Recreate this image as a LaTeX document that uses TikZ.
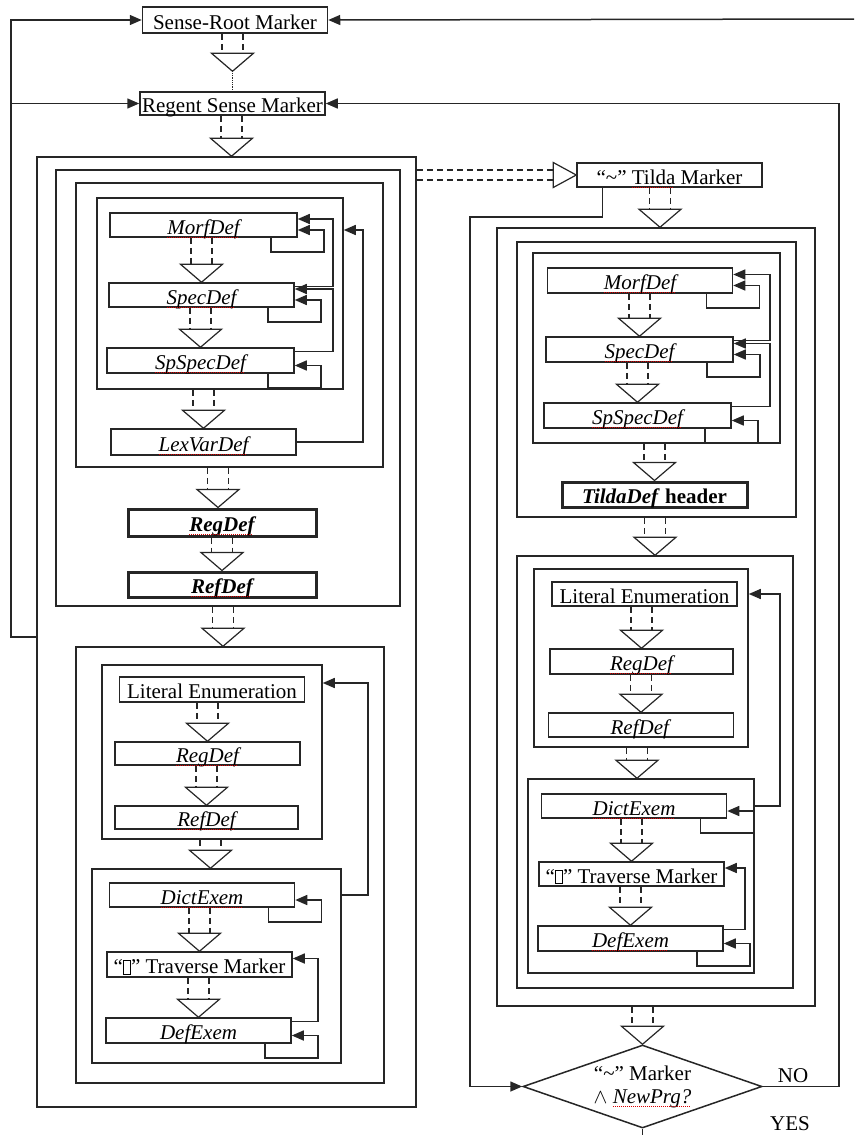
\documentclass[tikz,border=0pt]{standalone}
\usepackage{fontspec}
\setmainfont{Liberation Serif}
\usetikzlibrary{arrows.meta,calc,fit,shapes.geometric}

\newsavebox{\splbox}
\newcommand{\spl}[1]{\sbox{\splbox}{#1}\rlap{\usebox{\splbox}}\raisebox{-3.5pt}{\color{red!85!black}\hbox to \wd\splbox{\leaders\hbox{\rule{0.9pt}{0.6pt}\hskip1.1pt}\hfill}}}
\newcommand{\nog}{{\setlength{\fboxsep}{0pt}\setlength{\fboxrule}{0.7pt}\fbox{\rule{0pt}{0.6em}\hspace{0.32em}}}}
\newcommand{\flowdown}[3][0]{%
	\path (#3) ++(#1,0) coordinate (tip) ++(-10.5,-18) coordinate (dl) ++(21,0) coordinate (dr);
	\draw[flowline] (dl |- #2.south) -- (dl) (dr |- #2.south) -- (dr);
	\draw[flowtri] (tip) -- ++(-21,-18) -- ++(42,0) -- cycle;}
\newcommand{\selfloop}[1]{%
	\draw[fb] ([xshift=-27pt]#1.south east) -- ++(0,14) -| ([xshift=26pt,yshift=-5pt]#1.east) -- ([yshift=-5pt]#1.east);}
\newcommand{\backloop}[3][38]{%
	\draw[fb] ([yshift=-4pt]#2.north east) -- ++(#1,0) |- ([yshift=6pt]#3.east);}

\begin{document}
\begin{tikzpicture}[x=1pt, y=-1pt, font=\fontsize{21}{23}\selectfont,
		frame/.style={draw=black!85, line width=1.5pt, inner sep=0pt},
		defbox/.style={frame, fill=white, minimum width=185pt, minimum height=24pt, text height=18pt, text depth=0pt},
		heavybox/.style={defbox, line width=3pt},
		fb/.style={draw=black!85, line width=1.5pt, -{Triangle[length=12pt,width=10pt]}},
		flowline/.style={draw=black!85, line width=1.5pt, dash pattern=on 6pt off 4pt},
		flowtri/.style={draw=black!85, line width=1.2pt, fill=white},
		decision/.style={diamond, draw=black!85, line width=1.5pt, inner sep=0pt, aspect=2.86,
			minimum width=239pt, minimum height=83pt, align=center}]
	\useasboundingbox (0,0) rectangle (854,1135);

	\node[defbox, minimum height=26pt] (sense) at (235,20) {Sense-Root Marker};
	\node[defbox, minimum height=23pt] (regent) at (232.5,103.5) {Regent Sense Marker};

	\node[frame, fit={(37,157) (416,1107)}] (outerL) {};
	\node[frame, fit={(56,170) (400,606)}] (sensegrpL) {};
	\node[frame, fit={(76,183) (383,467)}] (lexgrpL) {};
	\node[frame, fit={(97,198) (343,389)}] (morphgrpL) {};
	\node[frame, fit={(76,647) (384,1083)}] (exemgrpL) {};
	\node[frame, fit={(102,665) (322,839)}] (litgrpL) {};
	\node[frame, fit={(92,869) (341,1063)}] (dictgrpL) {};

	\node[defbox, minimum width=187pt] (morfL) at (203.5,225) {\textit{\spl{MorfDef}}};
	\node[defbox] (specL) at (201.5,295) {\textit{\spl{SpecDef}}};
	\node[defbox, minimum width=187pt, minimum height=25pt] (spspecL) at (200.5,360.5) {\textit{\spl{SpSpecDef}}};
	\node[defbox, minimum height=26pt] (lexL) at (203.5,442) {\textit{\spl{LexVarDef}}};
	\node[heavybox, minimum width=188pt, minimum height=27pt] (regthickL) at (222,522.5) {\textbf{\textit{\spl{RegDef}}}};
	\node[heavybox, minimum width=188pt, minimum height=25pt] (refthickL) at (222,584.5) {\textbf{\textit{\spl{RefDef}}}};
	\node[defbox, minimum height=25pt] (litL) at (212,689.5) {Literal Enumeration};
	\node[defbox, minimum height=23pt] (regL) at (207.5,753.5) {\textit{\spl{RegDef}}};
	\node[defbox, minimum width=183pt, minimum height=23pt] (refL) at (206.5,817.5) {\textit{\spl{RefDef}}};
	\node[defbox] (dictL) at (202,895) {\textit{\spl{DictExem}}};
	\node[defbox, minimum height=25pt] (travL) at (199.5,964.5) {“\nog” Traverse Marker};
	\node[defbox, minimum height=25pt] (defL) at (198.5,1030.5) {\textit{DefExem}};

	\node[defbox] (tilda) at (669.5,175) {“\textasciitilde” \spl{Tilda} Marker};
	\node[frame, fit={(497,228) (815,1006)}] (outerR) {};
	\node[frame, fit={(517,242) (796,517)}] (tildagrpR) {};
	\node[frame, fit={(533,253) (780,443)}] (morphgrpR) {};
	\node[frame, fit={(517,556) (793,988)}] (exemgrpR) {};
	\node[frame, fit={(534,569) (748,747)}] (litgrpR) {};
	\node[frame, fit={(528,779) (754,973)}] (dictgrpR) {};

	\node[defbox, minimum height=25pt] (morfR) at (640,280.5) {\textit{\spl{MorfDef}}};
	\node[defbox, minimum width=187pt, minimum height=25pt] (specR) at (639.5,349.5) {\textit{\spl{SpecDef}}};
	\node[defbox, minimum width=187pt, minimum height=25pt] (spspecR) at (637.5,415.5) {\textit{\spl{SpSpecDef}}};
	\node[heavybox, minimum height=25pt] (tildadef) at (654.5,494.5) {\textbf{\textit{TildaDef} header}};
	\node[defbox] (litR) at (644.5,594) {Literal Enumeration};
	\node[defbox, minimum width=183pt, minimum height=25pt] (regR) at (641.5,661.5) {\textit{\spl{RegDef}}};
	\node[defbox] (refR) at (641,725) {\textit{RefDef}};
	\node[defbox] (dictR) at (634,806) {\textit{\spl{DictExem}}};
	\node[defbox] (travR) at (631.5,874) {“\nog” Traverse Marker};
	\node[defbox, minimum height=25pt] (defR) at (630.5,938.5) {\textit{\spl{DefExem}}};

	\node[decision] (decide) at (642.5,1086.5) {“\textasciitilde” Marker\\$\wedge$ \textit{\spl{NewPrg?}}};
	\node (nolabel) at (793,1076) {NO};
	\node (yeslabel) at (790,1124) {YES};

	\flowdown{sense}{$(regent.north)+(0,-20)$}
	\draw[black!85, line width=0.8pt, densely dotted] ($(regent.north)+(0,-20)$) -- (regent.north);
	\flowdown[5]{regent}{outerL.north}
	\flowdown{morfL}{specL.north}
	\flowdown{specL}{spspecL.north}
	\flowdown{morphgrpL}{lexL.north}
	\flowdown[-4]{lexgrpL}{regthickL.north}
	\flowdown{regthickL}{refthickL.north}
	\flowdown[-7]{sensegrpL}{exemgrpL.north}
	\flowdown{litL}{regL.north}
	\flowdown{regL}{refL.north}
	\flowdown[-6]{litgrpL}{dictgrpL.north}
	\flowdown{dictL}{travL.north}
	\flowdown{travL}{defL.north}

	\path (tilda.west) coordinate (tip) ++(-23,-5) coordinate (du) ++(0,10) coordinate (dd);
	\draw[flowline] (outerL.east |- du) -- (du) (outerL.east |- dd) -- (dd);
	\draw[flowtri] (tip) -- ++(-23,-12.5) -- ++(0,25) -- cycle;

	\flowdown[4]{tilda}{outerR.north}
	\flowdown{morfR}{specR.north}
	\flowdown{specR}{spspecR.north}
	\flowdown{morphgrpR}{tildadef.north}
	\flowdown{tildagrpR}{exemgrpR.north}
	\flowdown{litR}{regR.north}
	\flowdown{regR}{refR.north}
	\flowdown[-4]{litgrpR}{dictgrpR.north}
	\flowdown{dictR}{travR.north}
	\flowdown{travR}{defR.north}
	\flowdown{outerR}{decide.north}

	\backloop{specL}{morfL}
	\backloop{spspecL}{specL}
	\selfloop{morfL}
	\selfloop{specL}
	\selfloop{spspecL}
	\draw[fb] (lexL.east) -- ++(66,0) |- (morphgrpL.east |- 0,230);
	\draw[fb] (dictgrpL.east |- dictL.east) -- ++(26,0) |- (litgrpL.east |- 0,683);
	\selfloop{dictL}
	\backloop[26]{defL}{travL}
	\selfloop{defL}

	\backloop[36]{specR}{morfR}
	\backloop{spspecR}{specR}
	\selfloop{morfR}
	\selfloop{specR}
	\selfloop{spspecR}
	\draw[fb] (dictgrpR.east |- dictR.east) -- ++(25,0) |- (litgrpR.east |- litR.east);
	\selfloop{dictR}
	\backloop[21]{defR}{travR}
	\selfloop{defR}

	\coordinate (topend) at (854,19);
	\coordinate (tildarail) at (470,217);
	\draw[fb] (topend) -- (sense.east);
	\draw[fb] (outerL.west |- 0,637) -| (sense.west -| 11,0) -- (sense.west);
	\draw[fb] (regent.west -| 11,0) -- (regent.west);
	\draw[fb] ([xshift=26pt]tilda.south west) |- (tildarail) |- (decide.west);
	\draw[fb] (decide.east) -- ++(76,0) |- (regent.east);
	\draw[black!85, line width=1.5pt] (decide.south) -- ++(0,8);
\end{tikzpicture}
\end{document}
